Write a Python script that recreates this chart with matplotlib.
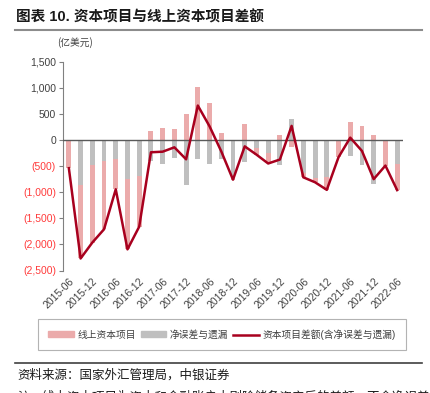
import numpy as np
import matplotlib
matplotlib.use('Agg')
import matplotlib.pyplot as plt
from matplotlib.lines import Line2D
from matplotlib.patches import Patch
from matplotlib.ticker import FuncFormatter

plt.rcParams['font.family'] = ['Liberation Sans', 'Noto Sans CJK SC', 'DejaVu Sans']

# quarterly, 2015-06 .. 2022-06 (亿美元)
quarters = ['2015-06', '2015-09', '2015-12', '2016-03', '2016-06', '2016-09', '2016-12',
            '2017-03', '2017-06', '2017-09', '2017-12', '2018-03', '2018-06', '2018-09',
            '2018-12', '2019-03', '2019-06', '2019-09', '2019-12', '2020-03', '2020-06',
            '2020-09', '2020-12', '2021-03', '2021-06', '2021-09', '2021-12', '2022-03',
            '2022-06']
online_capital = [-520, -1410, -1480, -1310, -580, -1340, -970,
                  165, 236, 205, 500, 1020, 715, 140,
                  -20, 306, -120, -210, 96, -130, -75,
                  -80, -240, -330, 345, 270, 100, -480,
                  -500]
errors_omissions = [-20, -860, -485, -400, -365, -755, -690,
                    -400, -460, -345, -870, -360, -453, -358,
                    -740, -428, -160, -240, -470, 400, -640,
                    -730, -715, 0, -300, -480, -850, -10,
                    -460]
capital_balance = [-540, -2270, -1965, -1710, -945, -2095, -1660,
                   -235, -224, -140, -370, 660, 262, -218,
                   -760, -122, -280, -450, -374, 270, -715,
                   -810, -955, -330, 45, -210, -750, -490,
                   -960]
tick_labels = quarters[::2]

PINK = '#EBABAB'
GRAY = '#BFBFBF'
RED = '#A8001E'

fig = plt.figure(figsize=(4.3, 3.93), dpi=100)
ax = fig.add_axes([63 / 430, 1 - 270.5 / 393, 340 / 430, 208.8 / 393])

x = np.arange(len(quarters))
pink = np.array(online_capital)
gray = np.array(errors_omissions)
# stack pink on top of gray when same sign
pink_bottom = np.where(np.sign(pink) == np.sign(gray), gray, 0)

ax.bar(x, gray, width=0.42, color=GRAY, zorder=2)
ax.bar(x, pink, bottom=pink_bottom, width=0.42, color=PINK, zorder=2)
ax.axhline(0, color='#595959', lw=1.0, zorder=3)
ax.plot(x, capital_balance, color=RED, lw=1.8, zorder=4)

ax.set_xlim(-0.5, len(quarters) - 0.5)
ax.set_ylim(-2500, 1500)
ax.set_yticks(np.arange(-2500, 1501, 500))


def fmt(v, pos):
    if v < 0:
        return '({:,.0f})'.format(-v)
    return '{:,.0f}'.format(v)


ax.yaxis.set_major_formatter(FuncFormatter(fmt))
ax.tick_params(axis='y', labelsize=7.5, length=3, color='#808080', pad=2)
for lab, v in zip(ax.get_yticklabels(), ax.get_yticks()):
    lab.set_color('#FF3B3B' if v < 0 else '#404040')

ax.set_xticks(x[::2])
ax.set_xticklabels(tick_labels, rotation=45, ha='right', rotation_mode='anchor',
                   fontsize=7.5, color='#404040')
ax.tick_params(axis='x', length=0, pad=4)

for s in ['top', 'right', 'bottom']:
    ax.spines[s].set_visible(False)
ax.spines['left'].set_color('#808080')
ax.spines['left'].set_linewidth(0.8)

fig.text(57 / 430, 1 - 43 / 393, '(亿美元)', fontsize=7, color='#404040', va='center',
         family=['Noto Sans CJK SC'])

# title
fig.text(16 / 430, 1 - 17 / 393, '图表 10. 资本项目与线上资本项目差额', fontsize=10.5,
         fontweight='bold', va='center', color='#1a1a1a')
fig.add_artist(Line2D([15 / 430, 422 / 430], [1 - 30 / 393] * 2, color='#8C8C8C', lw=1.5))

handles = [Patch(color=PINK), Patch(color=GRAY), Line2D([], [], color=RED, lw=1.8)]
labels = ['线上资本项目', '净误差与遗漏', '资本项目差额(含净误差与遗漏)']
leg = fig.legend(handles, labels, loc='center', bbox_to_anchor=(222 / 430, 1 - 334.5 / 393),
                 ncol=3, fontsize=7, frameon=True, fancybox=False, edgecolor='#A0A0A0',
                 handlelength=2.6, handleheight=0.6, handletextpad=0.4, columnspacing=0.5,
                 borderpad=1.1, borderaxespad=0)
leg.get_frame().set_linewidth(0.8)
for t in leg.get_texts():
    t.set_color('#404040')

fig.add_artist(Line2D([15 / 430, 422 / 430], [1 - 362.7 / 393] * 2, color='#404040', lw=1.2))
fig.text(17 / 430, 1 - 375 / 393, '资料来源：国家外汇管理局，中银证券', fontsize=9,
         style='italic', va='center', color='#1a1a1a')
fig.text(17 / 430, 1 - 397 / 393, '注：线上资本项目为资本和金融账户中剔除储备资产后的差额，不含净误差与遗漏',
         fontsize=9, style='italic', va='center', color='#1a1a1a')

fig.savefig('out.png', dpi=100)
